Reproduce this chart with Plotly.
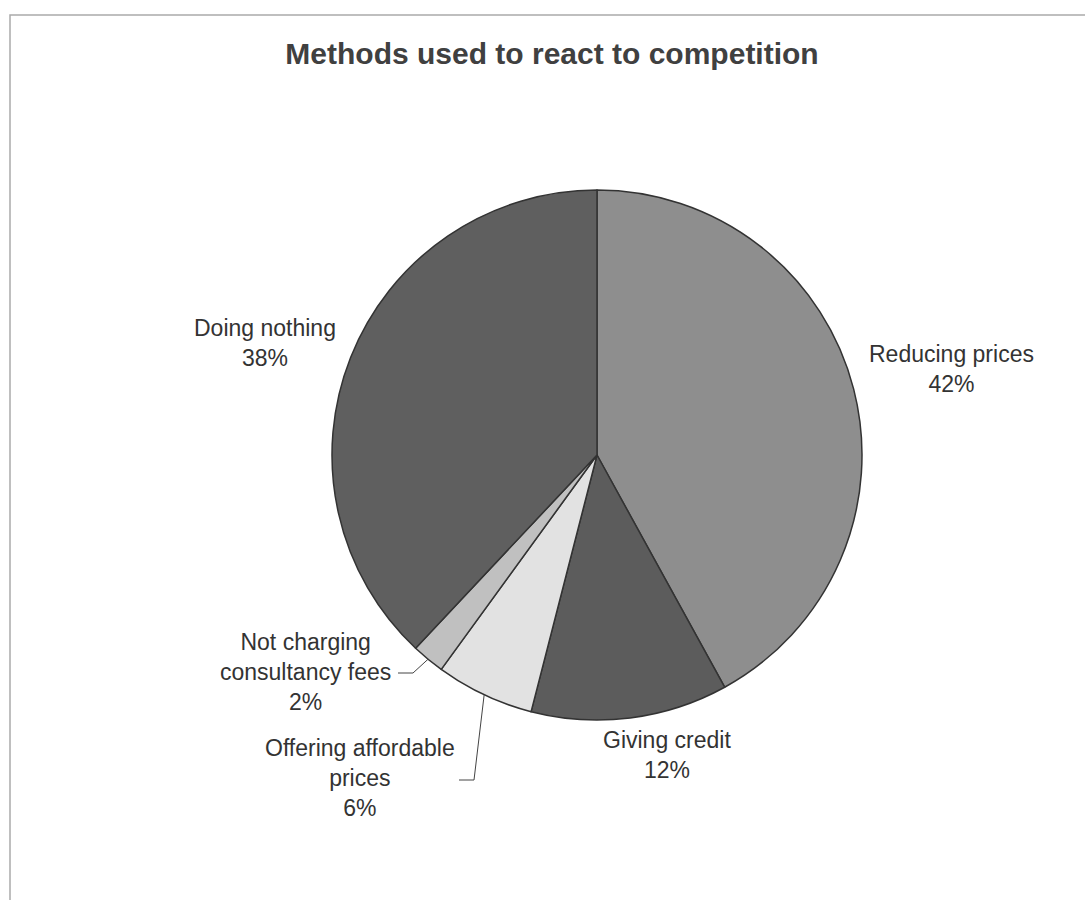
import math
import plotly.graph_objects as go

categories = ["Reducing prices", "Giving credit", "Offering affordable prices",
              "Not charging consultancy fees", "Doing nothing"]
values = [42, 12, 6, 2, 38]
colors = ["#8e8e8e", "#5c5c5c", "#e2e2e2", "#c0c0c0", "#5f5f5f"]
label_texts = ["Reducing prices<br>42%", "Giving credit<br>12%",
               "Offering affordable<br>prices<br>6%",
               "Not charging<br>consultancy fees<br>2%", "Doing nothing<br>38%"]

W, H = 1085, 900
cx, cy, R = 597, 455, 265

fig = go.Figure(go.Pie(
    labels=categories, values=values, sort=False, direction="clockwise",
    rotation=0, textinfo="none", hoverinfo="label+percent",
    marker=dict(colors=colors, line=dict(color="#333333", width=1.5)),
    domain=dict(x=[(cx - R) / W, (cx + R) / W], y=[(H - cy - R) / H, (H - cy + R) / H]),
    showlegend=False,
))

# label positions (pixel centres, x, y of the block centre)
label_pos = [(951, 369), (667, 755), (360, 778), (305, 672), (265, 343)]
font = dict(family="Liberation Sans, Arial, sans-serif", size=23, color="#333333")
for txt, (lx, ly) in zip(label_texts, label_pos):
    fig.add_annotation(x=lx / W, y=1 - ly / H, xref="paper", yref="paper",
                       text=txt, showarrow=False, font=font, align="center",
                       xanchor="center", yanchor="middle")

# leader lines to slice edges, computed from the data
total = sum(values)
cum = 0
edges = []
for v in values:
    mid = (cum + v / 2) / total * 2 * math.pi
    edges.append((cx + R * math.sin(mid), cy - R * math.cos(mid)))
    cum += v

def px(x, y):
    return x / W, 1 - y / H

leaders = {3: [(398, 673), (413, 673)], 2: [(459, 780), (474, 780)]}
for idx, pts in leaders.items():
    allpts = pts + [edges[idx]]
    path = "M " + " L ".join(f"{px(x, y)[0]},{px(x, y)[1]}" for x, y in allpts)
    fig.add_shape(type="path", path=path, xref="paper", yref="paper",
                  line=dict(color="#444444", width=1))

# outer frame
fig.add_shape(type="rect", xref="paper", yref="paper",
              x0=10 / W, x1=1.02, y0=-0.02, y1=1 - 15 / H,
              line=dict(color="#aaaaaa", width=1.5))

fig.update_layout(
    width=W, height=H, margin=dict(l=0, r=0, t=0, b=0),
    paper_bgcolor="white", plot_bgcolor="white",
    title=dict(text="<b>Methods used to react to competition</b>",
               x=552 / W, xanchor="center", y=1 - 53 / H, yanchor="middle",
               font=dict(family="Liberation Sans, Arial, sans-serif", size=30, color="#404040")),
)

fig.write_html("out.html")
